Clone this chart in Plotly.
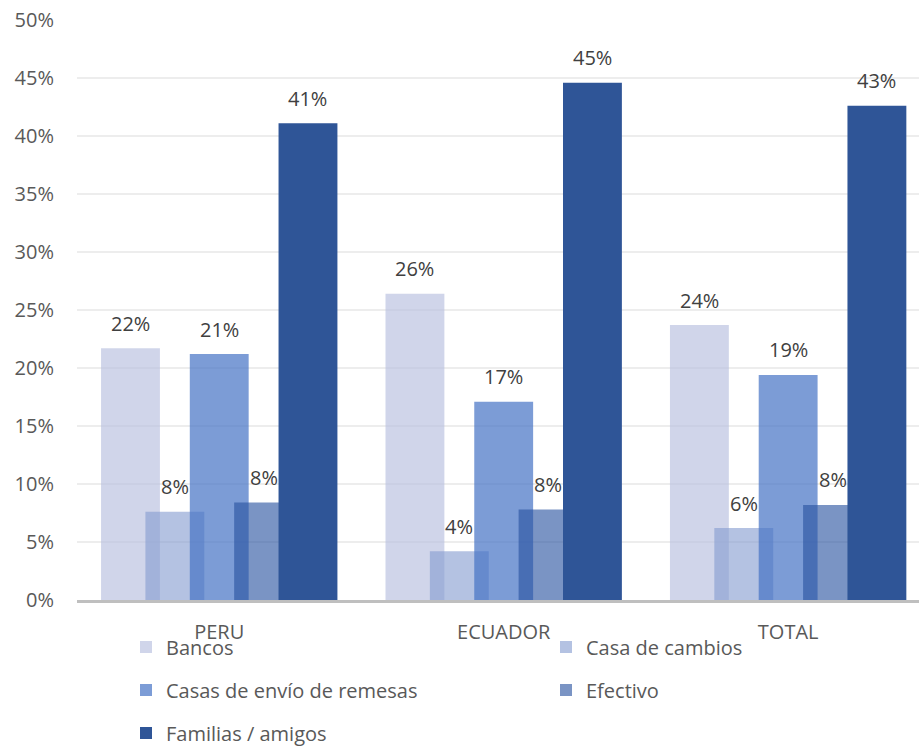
import plotly.graph_objects as go

# ---- data ----
categories = ["PERU", "ECUADOR", "TOTAL"]
series_names = ["Bancos", "Casa de cambios", "Casas de envío de remesas", "Efectivo", "Familias / amigos"]
bancos = [0.217, 0.264, 0.237]
casa_cambios = [0.076, 0.042, 0.062]
casas_envio = [0.212, 0.171, 0.194]
efectivo = [0.084, 0.078, 0.082]
familias = [0.411, 0.446, 0.426]
y_tick_values = [0, 0.05, 0.10, 0.15, 0.20, 0.25, 0.30, 0.35, 0.40, 0.45, 0.50]

series_values = [bancos, casa_cambios, casas_envio, efectivo, familias]
colors = [
    "rgba(183,191,223,0.65)",
    "rgba(134,156,208,0.62)",
    "rgba(68,114,196,0.70)",
    "rgba(40,82,160,0.62)",
    "rgba(47,85,151,1.0)",
]
legend_ids = ["legend", "legend", "legend2", "legend2", "legend3"]

FONT = "Open Sans, Noto Sans, sans-serif"
bar_w = 0.207
step = 0.156

fig = go.Figure()
annotations = []
for i, (name, vals, col, lg) in enumerate(zip(series_names, series_values, colors, legend_ids)):
    off = (i - 2) * step
    fig.add_trace(go.Bar(
        x=categories, y=vals, name=name,
        width=bar_w, offset=off - bar_w / 2,
        marker=dict(color=col, line=dict(width=0)),
        legend=lg, hoverinfo="skip",
    ))
    for g, v in enumerate(vals):
        annotations.append(dict(
            x=g + off, y=v, xref="x", yref="y",
            text=f"{round(v * 100):.0f}%", showarrow=False,
            yanchor="middle", yshift=25,
            font=dict(family=FONT, size=20, color="#404040"),
        ))

H_PLOT = 580.0
def py(px):
    return (600 - px) / H_PLOT

legend_common = dict(
    orientation="h", xanchor="left", yanchor="middle",
    x=(126 - 77) / 842.0,
    font=dict(family=FONT, size=20, color="#595959"),
    entrywidth=375, entrywidthmode="pixels",
    bgcolor="rgba(0,0,0,0)", borderwidth=0,
    traceorder="normal",
)

fig.update_layout(
    width=919, height=747,
    margin=dict(l=77, r=0, t=20, b=147, autoexpand=False),
    plot_bgcolor="white", paper_bgcolor="white",
    barmode="overlay",
    showlegend=True,
    legend=dict(legend_common, y=py(647)),
    legend2=dict(legend_common, y=py(690)),
    legend3=dict(legend_common, y=py(733)),
    annotations=annotations,
    xaxis=dict(
        type="category", range=[-0.5, 2.46],
        showline=True, linecolor="#BFBFBF", linewidth=2.5,
        showgrid=False, ticks="", automargin=False,
        tickfont=dict(family=FONT, size=20, color="#595959"),
        ticklabelstandoff=12,
    ),
    yaxis=dict(
        range=[0, 0.5], tickvals=y_tick_values, tickformat=".0%",
        showgrid=True, gridcolor="#EDEDED", gridwidth=1.5,
        zeroline=False, showline=False, ticks="", automargin=False,
        tickfont=dict(family=FONT, size=20, color="#595959"),
        ticklabelstandoff=22,
    ),
)

fig.write_html(
    "out.html",
    config={"displayModeBar": False, "staticPlot": True},
    post_script="document.body.style.margin='0';document.body.style.overflow='hidden';",
)
